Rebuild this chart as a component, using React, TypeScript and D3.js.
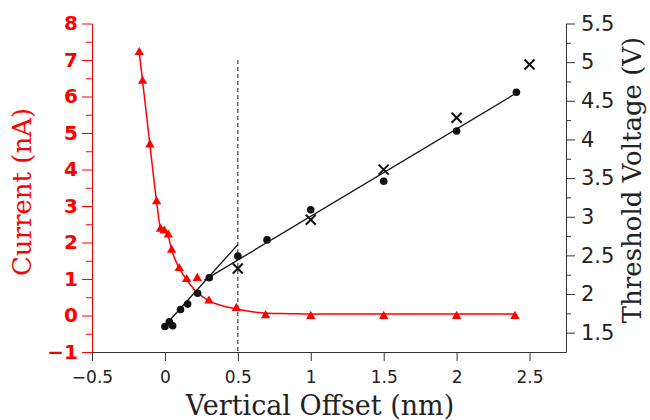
import * as React from 'react';
import * as d3 from 'd3';

// current vs offset (left axis, nA)
const currentX = [-0.176, -0.153, -0.103, -0.057, -0.03, -0.005, 0.023, 0.046, 0.098, 0.149, 0.222, 0.302, 0.49, 0.69, 1.0, 1.5, 2.0, 2.4];
const currentY = [7.21, 6.42, 4.68, 3.12, 2.37, 2.32, 2.21, 1.79, 1.29, 0.99, 1.02, 0.4, 0.2, 0.0, -0.02, -0.02, -0.02, -0.02];
// red guide curve through the current data
const currentFitX = [-0.176, -0.153, -0.103, -0.057, -0.03, 0.0, 0.023, 0.046, 0.098, 0.149, 0.2, 0.3, 0.4, 0.5, 0.6, 0.7, 0.85, 1.0, 1.5, 2.0, 2.4];
const currentFitY = [7.21, 6.42, 4.68, 3.12, 2.4, 2.3, 2.17, 1.8, 1.3, 0.98, 0.72, 0.41, 0.26, 0.17, 0.1, 0.06, 0.05, 0.04, 0.04, 0.04, 0.04];

// threshold voltage (right axis, V)
const thresholdX = [0.0, 0.03, 0.053, 0.107, 0.156, 0.224, 0.304, 0.5, 0.7, 1.0, 1.5, 2.0, 2.41];
const thresholdY = [1.58, 1.64, 1.59, 1.8, 1.87, 2.01, 2.21, 2.49, 2.7, 3.09, 3.46, 4.11, 4.61];
const crossX = [0.5, 1.0, 1.5, 2.0, 2.5];
const crossY = [2.33, 2.96, 3.61, 4.28, 4.97];
const fitSteepX = [-0.01, 0.5];
const fitSteepY = [1.57, 2.64];
const fitLinearX = [0.27, 2.41];
const fitLinearY = [2.18, 4.6];

const xTicks = [-0.5, 0, 0.5, 1, 1.5, 2, 2.5];
const currentTicks = [-1, 0, 1, 2, 3, 4, 5, 6, 7, 8];
const currentMinor = [-0.5, 0.5, 1.5, 2.5, 3.5, 4.5, 5.5, 6.5, 7.5];
const voltageTicks = [1.5, 2, 2.5, 3, 3.5, 4, 4.5, 5, 5.5];
const voltageMinor = [1.75, 2.25, 2.75, 3.25, 3.75, 4.25, 4.75, 5.25];
const cutoffX = 0.5;
const cutoffTop = 7;

export default function App() {
  const ref = React.useRef<SVGSVGElement>(null);

  React.useEffect(() => {
    const svg = d3.select(ref.current);
    svg.selectAll('*').remove();

    const left = 92, right = 566, top = 23.5, bottom = 352;
    const red = '#ff0000';
    const ink = '#222';

    const x = d3.scaleLinear().domain([-0.5, 2.75]).range([left, right]);
    const yI = d3.scaleLinear().domain([-1, 8]).range([bottom, top]);
    const yV = d3.scaleLinear().domain([1.25, 5.5]).range([bottom, top]);

    // axes
    const gx = svg.append('g').attr('transform', `translate(0,${bottom})`)
      .call(d3.axisBottom(x).tickValues(xTicks).tickSize(9).tickSizeOuter(0).tickPadding(10).tickFormat(d3.format('~g')));
    gx.selectAll('path, line').attr('stroke', '#333');
    gx.selectAll('text').attr('fill', ink).attr('font-family', 'DejaVu Sans').attr('font-size', 17);

    const gl = svg.append('g').attr('transform', `translate(${left},0)`)
      .call(d3.axisLeft(yI).tickValues(currentTicks).tickSize(10).tickSizeOuter(0).tickPadding(4).tickFormat(d3.format('d')));
    gl.selectAll('path, line').attr('stroke', red);
    gl.selectAll('text').attr('fill', red).attr('font-family', 'DejaVu Sans').attr('font-weight', 'bold').attr('font-size', 20);
    const glm = svg.append('g').attr('transform', `translate(${left},0)`)
      .call(d3.axisLeft(yI).tickValues(currentMinor).tickSize(6).tickFormat(() => ''));
    glm.select('.domain').remove();
    glm.selectAll('line').attr('stroke', red);

    const gr = svg.append('g').attr('transform', `translate(${right},0)`)
      .call(d3.axisRight(yV).tickValues(voltageTicks).tickSize(9).tickSizeOuter(0).tickPadding(6).tickFormat(d3.format('~g')));
    gr.selectAll('path, line').attr('stroke', '#333');
    gr.selectAll('text').attr('fill', ink).attr('font-family', 'DejaVu Sans').attr('font-size', 21);
    const grm = svg.append('g').attr('transform', `translate(${right},0)`)
      .call(d3.axisRight(yV).tickValues(voltageMinor).tickSize(5).tickFormat(() => ''));
    grm.select('.domain').remove();
    grm.selectAll('line').attr('stroke', '#333');

    svg.selectAll('.tick text').attr('stroke', 'none');

    // titles
    svg.append('text').attr('transform', 'translate(31,192) rotate(-90)')
      .attr('text-anchor', 'middle').attr('font-family', 'DejaVu Serif').attr('font-size', 26)
      .attr('fill', red).text('Current (nA)');
    svg.append('text').attr('transform', 'translate(641,180) rotate(-90)')
      .attr('text-anchor', 'middle').attr('font-family', 'DejaVu Serif').attr('font-size', 26)
      .attr('fill', ink).text('Threshold Voltage (V)');
    svg.append('text').attr('x', 320).attr('y', 415)
      .attr('text-anchor', 'middle').attr('font-family', 'DejaVu Serif').attr('font-size', 27)
      .attr('fill', ink).text('Vertical Offset (nm)');

    // dashed cutoff
    svg.append('line')
      .attr('x1', x(cutoffX)).attr('x2', x(cutoffX))
      .attr('y1', yI(cutoffTop)).attr('y2', bottom)
      .attr('stroke', '#333').attr('stroke-width', 1.1).attr('stroke-dasharray', '4,3');

    // current
    const fitC = currentFitX.map((v, i) => [v, currentFitY[i]] as [number, number]);
    svg.append('path').datum(fitC)
      .attr('fill', 'none').attr('stroke', red).attr('stroke-width', 1.5)
      .attr('d', d3.line<[number, number]>().x(d => x(d[0])).y(d => yI(d[1])).curve(d3.curveMonotoneX));
    const tri = d3.symbol().type(d3.symbolTriangle).size(38);
    svg.append('g').selectAll('path').data(currentX).join('path')
      .attr('transform', (d, i) => `translate(${x(d)},${yI(currentY[i])})`)
      .attr('d', tri()).attr('fill', red);

    // threshold fits
    const vLine = d3.line<[number, number]>().x(d => x(d[0])).y(d => yV(d[1]));
    [[fitSteepX, fitSteepY], [fitLinearX, fitLinearY]].forEach(([xs, ys]) => {
      svg.append('path').datum(xs.map((v, i) => [v, ys[i]] as [number, number]))
        .attr('fill', 'none').attr('stroke', '#111').attr('stroke-width', 1.3).attr('d', vLine);
    });

    svg.append('g').selectAll('circle').data(thresholdX).join('circle')
      .attr('cx', d => x(d)).attr('cy', (d, i) => yV(thresholdY[i]))
      .attr('r', 3.8).attr('fill', '#111');

    svg.append('g').selectAll('path').data(crossX).join('path')
      .attr('transform', (d, i) => `translate(${x(d)},${yV(crossY[i])})`)
      .attr('d', 'M-5,-5L5,5M-5,5L5,-5')
      .attr('stroke', '#111').attr('stroke-width', 2).attr('fill', 'none');
  }, []);

  return (
    <svg ref={ref} width={650} height={420} style={{ position: 'absolute', left: 0, top: 0, background: '#fff' }}></svg>
  );
}
